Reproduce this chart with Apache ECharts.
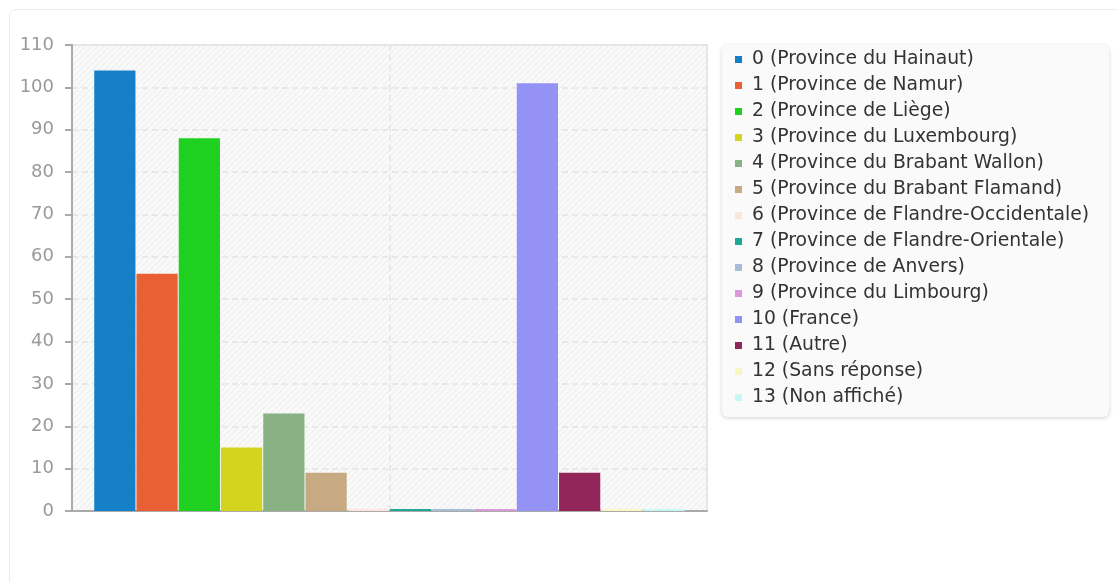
<!DOCTYPE html>
<html>
<head>
<meta charset="utf-8">
<script src="https://cdn.jsdelivr.net/npm/echarts@6/dist/echarts.min.js"></script>
<style>
  html, body { margin: 0; padding: 0; background: #fff; overflow: hidden; }
  #card { position: absolute; left: 9px; top: 9px; width: 1140px; height: 620px; border: 1px solid #ebebeb; border-radius: 7px; }
  #chart { position: absolute; left: 0; top: 0; width: 1117px; height: 582px; }
</style>
</head>
<body>
<div id="card"></div>
<div id="chart"></div>
<script>
const categories = [''];
const seriesNames = [
  '0 (Province du Hainaut)',
  '1 (Province de Namur)',
  '2 (Province de Liège)',
  '3 (Province du Luxembourg)',
  '4 (Province du Brabant Wallon)',
  '5 (Province du Brabant Flamand)',
  '6 (Province de Flandre-Occidentale)',
  '7 (Province de Flandre-Orientale)',
  '8 (Province de Anvers)',
  '9 (Province du Limbourg)',
  '10 (France)',
  '11 (Autre)',
  '12 (Sans réponse)',
  '13 (Non affiché)'
];
const seriesValues = [104, 56, 88, 15, 23, 9, 0, 0, 0, 0, 101, 9, 0, 0];
const seriesColors = [
  '#1580c8', '#e86034', '#20d020', '#d3d41e', '#88b283', '#c8aa82', '#fce5dc',
  '#1fa89a', '#a8bcd8', '#da9ada', '#9592f5', '#92265a', '#faf6c2', '#c6f8f8'
];
const yMin = 0;
const yMax = 110;
const yStep = 10;

const chart = echarts.init(document.getElementById('chart'));

/** hatched plot background */
function hatchPattern() {
  const c = document.createElement('canvas');
  c.width = 6;
  c.height = 6;
  const ctx = c.getContext('2d');
  ctx.fillStyle = '#f9f9f9';
  ctx.fillRect(0, 0, 6, 6);
  ctx.strokeStyle = '#ececec';
  ctx.lineWidth = 1;
  ctx.beginPath();
  ctx.moveTo(0, 6); ctx.lineTo(6, 0);
  ctx.moveTo(-1, 1); ctx.lineTo(1, -1);
  ctx.moveTo(5, 7); ctx.lineTo(7, 5);
  ctx.stroke();
  return { image: c, repeat: 'repeat' };
}

const series = seriesNames.map((name, i) => ({
  name: name,
  type: 'bar',
  barGap: '2.5%',
  barCategoryGap: '7%',
  barMinHeight: 2,
  itemStyle: { color: seriesColors[i] },
  data: [seriesValues[i]]
}));

const option = {
  animation: false,
  textStyle: { fontFamily: 'DejaVu Sans' },
  grid: {
    left: 72, top: 45, right: 410, bottom: 71,
    show: true,
    backgroundColor: hatchPattern(),
    borderColor: '#e2e2e2',
    borderWidth: 1.5
  },
  legend: {
    orient: 'vertical',
    left: 722,
    top: 45,
    icon: 'rect',
    itemWidth: 7,
    itemHeight: 7,
    itemGap: 7,
    padding: [5, 20, 10, 13],
    backgroundColor: '#fafafa',
    borderRadius: 6,
    shadowBlur: 4,
    shadowOffsetY: 1,
    shadowColor: 'rgba(0,0,0,0.18)',
    textStyle: { fontSize: 18.8, color: '#333', fontFamily: 'DejaVu Sans', padding: [0, 0, 0, 5] },
    data: seriesNames
  },
  xAxis: [
    {
      type: 'category',
      data: categories,
      axisLine: { lineStyle: { color: '#aaa', width: 2 } },
      axisTick: { show: false },
      axisLabel: { show: false },
      splitLine: { show: false }
    },
    {
      // helper axis: only draws the dashed line through the middle
      type: 'value',
      position: 'bottom',
      min: 0,
      max: 2,
      interval: 1,
      axisLine: { show: false },
      axisTick: { show: false },
      axisLabel: { show: false },
      splitLine: { show: true, lineStyle: { color: '#e4e4e4', type: [6, 4], width: 1.5 } }
    }
  ],
  yAxis: {
    type: 'value',
    min: yMin,
    max: yMax,
    interval: yStep,
    axisLine: { show: true, lineStyle: { color: '#aaa', width: 2 } },
    axisTick: { show: true, length: 7, lineStyle: { color: '#aaa', width: 2 } },
    axisLabel: { fontSize: 18, color: '#999', margin: 18 },
    splitLine: { lineStyle: { color: '#e4e4e4', type: [6, 4], width: 1.5 } }
  },
  series: series
};

chart.setOption(option);
</script>
</body>
</html>
